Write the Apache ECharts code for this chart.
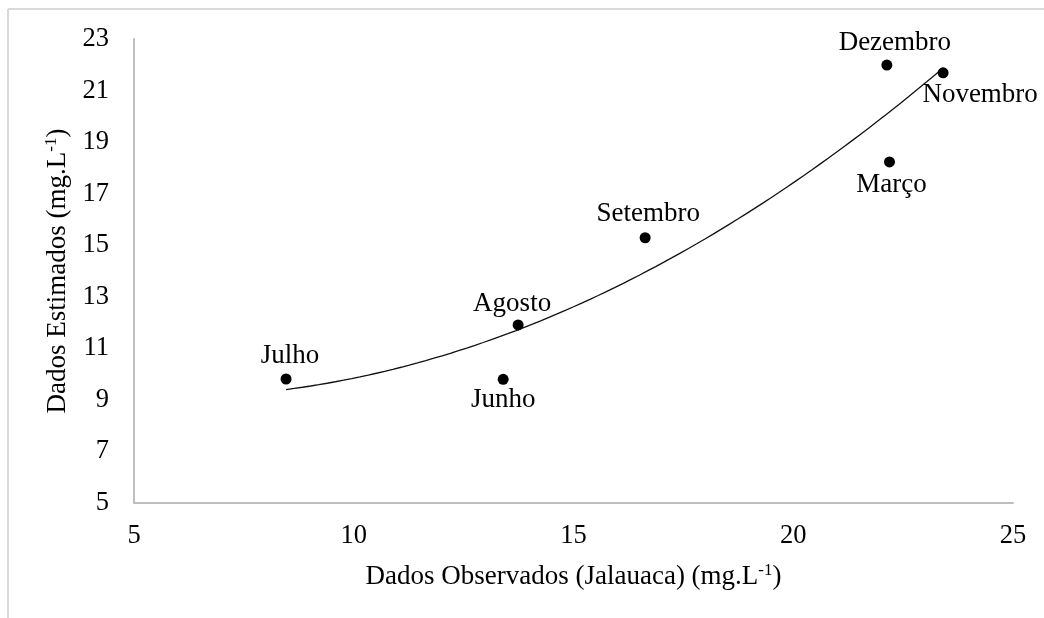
<!DOCTYPE html>
<html>
<head>
<meta charset="utf-8">
<script src="https://cdn.jsdelivr.net/npm/echarts@6/dist/echarts.min.js"></script>
<style>
  html, body { margin: 0; padding: 0; background: #ffffff; }
  #chart { width: 1044px; height: 618px; }
</style>
</head>
<body>
<div id="chart"></div>
<script>
// Monthly concentrations: observed (Jalauaca) vs estimated, mg.L-1
const months    = ['Julho', 'Junho', 'Agosto', 'Setembro', 'Dezembro', 'Novembro', 'Março'];
const observed  = [8.46, 13.40, 13.74, 16.63, 22.13, 23.41, 22.19];
const estimated = [9.81, 9.80, 11.91, 15.29, 21.99, 21.69, 18.23];

const xTicks = [5, 10, 15, 20, 25];
const yTicks = [5, 7, 9, 11, 13, 15, 17, 19, 21, 23];

// where each month's name sits relative to its point
const labelPlacement = {
  'Julho':    { position: 'top',    offset: [4, 0] },
  'Junho':    { position: 'bottom', offset: [0, -2] },
  'Agosto':   { position: 'top',    offset: [-6, 2] },
  'Setembro': { position: 'top',    offset: [3, -1] },
  'Dezembro': { position: 'top',    offset: [8, 1] },
  'Novembro': { position: 'bottom', offset: [37, -1] },
  'Março':    { position: 'bottom', offset: [2, 0] }
};

// second-order polynomial least-squares fit: y = a + b*x + c*x^2
function quadraticFit(xs, ys) {
  const n = xs.length;
  let s = [0, 0, 0, 0, 0], t = [0, 0, 0];
  for (let i = 0; i < n; i++) {
    let p = 1;
    for (let k = 0; k <= 4; k++) { s[k] += p; if (k <= 2) t[k] += p * ys[i]; p *= xs[i]; }
  }
  const M = [
    [s[0], s[1], s[2], t[0]],
    [s[1], s[2], s[3], t[1]],
    [s[2], s[3], s[4], t[2]]
  ];
  for (let col = 0; col < 3; col++) {
    let piv = col;
    for (let r = col + 1; r < 3; r++) if (Math.abs(M[r][col]) > Math.abs(M[piv][col])) piv = r;
    [M[col], M[piv]] = [M[piv], M[col]];
    for (let r = 0; r < 3; r++) {
      if (r === col) continue;
      const f = M[r][col] / M[col][col];
      for (let k = col; k < 4; k++) M[r][k] -= f * M[col][k];
    }
  }
  return [M[0][3] / M[0][0], M[1][3] / M[1][1], M[2][3] / M[2][2]];
}

const [ca, cb, cc] = quadraticFit(observed, estimated);
const xMin = Math.min(...observed), xMax = Math.max(...observed);
const trend = [];
for (let i = 0; i <= 80; i++) {
  const x = xMin + (xMax - xMin) * i / 80;
  trend.push([x, ca + cb * x + cc * x * x]);
}

const FONT = 'Liberation Serif, "Times New Roman", serif';
const FS_TICK = 26.5;
const FS_TEXT = 27;

const points = months.map((m, i) => ({
  name: m,
  value: [observed[i], estimated[i]],
  label: Object.assign({}, labelPlacement[m])
}));

const supStyle = { color: '#000', fontFamily: FONT, fontSize: 17, verticalAlign: 'top', lineHeight: 30 };

const chart = echarts.init(document.getElementById('chart'), null, { renderer: 'canvas' });
chart.setOption({
  backgroundColor: '#ffffff',
  animation: false,
  graphic: [
    { type: 'line', shape: { x1: 8, y1: 9, x2: 1044, y2: 9 },  style: { stroke: '#d9d9d9', lineWidth: 2 } },
    { type: 'line', shape: { x1: 8, y1: 9, x2: 8, y2: 618 },   style: { stroke: '#d9d9d9', lineWidth: 2 } }
  ],
  grid: { left: 134, right: 31, top: 39, bottom: 115, containLabel: false },
  xAxis: {
    type: 'value',
    min: xTicks[0], max: xTicks[xTicks.length - 1], interval: 5,
    axisLine: { show: true, lineStyle: { color: '#bfbfbf', width: 2 } },
    axisTick: { show: false },
    splitLine: { show: false },
    axisLabel: {
      margin: 20, color: '#000', fontFamily: FONT, fontSize: FS_TICK,
      formatter: v => (xTicks.includes(v) ? String(v) : '')
    },
    name: 'Dados Observados (Jalauaca) (mg.L{sup|-1})',
    nameLocation: 'middle',
    nameGap: 59,
    nameTextStyle: { color: '#000', fontFamily: FONT, fontSize: FS_TEXT, rich: { sup: supStyle } }
  },
  yAxis: {
    type: 'value',
    min: yTicks[0], max: yTicks[yTicks.length - 1], interval: 1,
    axisLine: { show: true, lineStyle: { color: '#bfbfbf', width: 2 } },
    axisTick: { show: false },
    splitLine: { show: false },
    axisLabel: {
      margin: 25, color: '#000', fontFamily: FONT, fontSize: FS_TICK,
      formatter: v => (yTicks.includes(v) ? String(v) : '')
    },
    name: 'Dados Estimados (mg.L{sup|-1})',
    nameLocation: 'middle',
    nameRotate: 90,
    nameGap: 61,
    nameTextStyle: { color: '#000', fontFamily: FONT, fontSize: FS_TEXT, rich: { sup: supStyle } }
  },
  series: [
    {
      type: 'line',
      data: trend,
      showSymbol: false,
      symbol: 'none',
      smooth: false,
      silent: true,
      z: 1,
      lineStyle: { color: '#111', width: 1.3 }
    },
    {
      type: 'scatter',
      data: points,
      symbol: 'circle',
      symbolSize: 11,
      z: 2,
      itemStyle: { color: '#000', opacity: 1 },
      label: {
        show: true,
        distance: 4,
        color: '#000',
        fontFamily: FONT,
        fontSize: FS_TEXT,
        formatter: p => p.name
      }
    }
  ]
});
</script>
</body>
</html>
